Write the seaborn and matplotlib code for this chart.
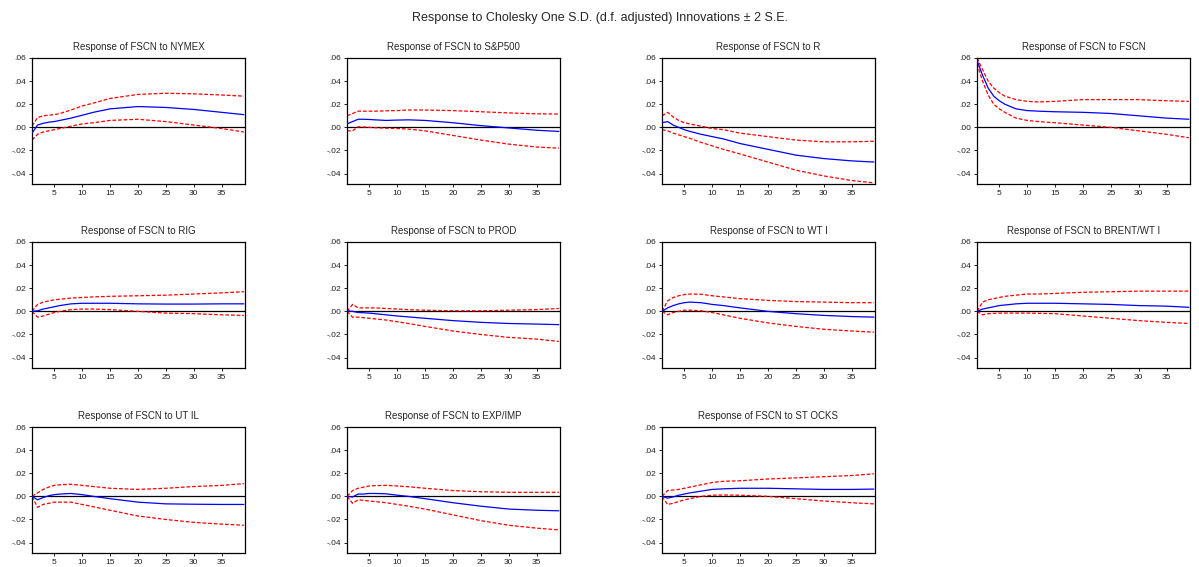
import matplotlib
matplotlib.use("Agg")
import matplotlib.pyplot as plt
import seaborn as sns
import numpy as np

periods = [1, 2, 3, 4, 5, 6, 8, 10, 12, 15, 20, 25, 30, 35, 39]

titles = ["Response of FSCN to NYMEX", "Response of FSCN to S&P500", "Response of FSCN to R",
          "Response of FSCN to FSCN", "Response of FSCN to RIG", "Response of FSCN to PROD",
          "Response of FSCN to WT I", "Response of FSCN to BRENT/WT I", "Response of FSCN to UT IL",
          "Response of FSCN to EXP/IMP", "Response of FSCN to ST OCKS"]

nymex_resp = [-0.005, 0.002, 0.0035, 0.0045, 0.005, 0.006, 0.008, 0.0105, 0.013, 0.016, 0.018, 0.0172, 0.0155, 0.013, 0.011]
nymex_up = [0.001, 0.0085, 0.0100, 0.0105, 0.011, 0.012, 0.015, 0.0185, 0.021, 0.025, 0.0285, 0.0295, 0.029, 0.028, 0.027]
nymex_lo = [-0.011, -0.006, -0.004, -0.003, -0.002, -0.001, 0.001, 0.003, 0.004, 0.006, 0.007, 0.005, 0.002, -0.001, -0.004]

sp_resp = [0.003, 0.005, 0.007, 0.007, 0.0068, 0.0065, 0.006, 0.0063, 0.0065, 0.006, 0.004, 0.0015, -0.0005, -0.0025, -0.0035]
sp_up = [0.010, 0.012, 0.014, 0.014, 0.014, 0.014, 0.0143, 0.0145, 0.015, 0.015, 0.0145, 0.0135, 0.0125, 0.0117, 0.0115]
sp_lo = [-0.003, -0.003, 0.0005, 0.0003, 0.0, -0.0003, -0.0007, -0.001, -0.0015, -0.003, -0.007, -0.011, -0.0145, -0.017, -0.018]

r_resp = [0.004, 0.005, 0.002, 0.0, -0.002, -0.0035, -0.006, -0.008, -0.010, -0.014, -0.019, -0.024, -0.027, -0.029, -0.030]
r_up = [0.010, 0.013, 0.009, 0.006, 0.004, 0.003, 0.001, -0.001, -0.002, -0.005, -0.008, -0.011, -0.0125, -0.0125, -0.012]
r_lo = [-0.002, -0.003, -0.005, -0.0065, -0.008, -0.0095, -0.013, -0.016, -0.019, -0.023, -0.030, -0.037, -0.042, -0.046, -0.048]

fscn_resp = [0.058, 0.045, 0.034, 0.027, 0.023, 0.020, 0.016, 0.0145, 0.014, 0.0135, 0.013, 0.012, 0.010, 0.008, 0.007]
fscn_up = [0.060, 0.050, 0.040, 0.034, 0.030, 0.027, 0.024, 0.0225, 0.022, 0.0225, 0.024, 0.024, 0.024, 0.023, 0.0225]
fscn_lo = [0.055, 0.040, 0.028, 0.020, 0.016, 0.013, 0.008, 0.006, 0.005, 0.004, 0.002, 0.0, -0.003, -0.006, -0.009]

rig_resp = [0.0, 0.0005, 0.002, 0.003, 0.004, 0.005, 0.0065, 0.007, 0.007, 0.007, 0.0065, 0.0063, 0.0063, 0.0065, 0.0065]
rig_up = [0.0, 0.006, 0.008, 0.009, 0.010, 0.0105, 0.0115, 0.012, 0.0125, 0.013, 0.0135, 0.014, 0.015, 0.016, 0.017]
rig_lo = [0.0, -0.005, -0.004, -0.0025, -0.001, 0.0, 0.0015, 0.002, 0.002, 0.0015, 0.0, -0.0015, -0.002, -0.003, -0.0035]

prod_resp = [0.0005, 0.0, -0.001, -0.0012, -0.0015, -0.002, -0.003, -0.004, -0.0048, -0.006, -0.008, -0.0095, -0.0105, -0.011, -0.0115]
prod_up = [0.0, 0.006, 0.003, 0.003, 0.003, 0.003, 0.0025, 0.002, 0.0015, 0.001, 0.0005, 0.0005, 0.001, 0.0015, 0.0025]
prod_lo = [0.0, -0.005, -0.005, -0.0055, -0.006, -0.0065, -0.0075, -0.009, -0.0105, -0.013, -0.017, -0.020, -0.0225, -0.024, -0.026]

wti_resp = [0.0, 0.003, 0.005, 0.0065, 0.0075, 0.008, 0.0075, 0.006, 0.005, 0.003, 0.0, -0.002, -0.0035, -0.0045, -0.005]
wti_up = [0.0, 0.009, 0.012, 0.0135, 0.0145, 0.015, 0.0148, 0.0135, 0.0125, 0.011, 0.0095, 0.0085, 0.008, 0.0075, 0.0075]
wti_lo = [0.0, -0.003, -0.001, 0.0, 0.001, 0.001, 0.0005, -0.001, -0.003, -0.006, -0.010, -0.013, -0.0155, -0.017, -0.018]

brent_resp = [0.0, 0.002, 0.003, 0.004, 0.005, 0.0055, 0.0065, 0.007, 0.007, 0.007, 0.0065, 0.006, 0.005, 0.0045, 0.0035]
brent_up = [0.0, 0.008, 0.010, 0.011, 0.012, 0.013, 0.014, 0.015, 0.015, 0.0155, 0.0165, 0.017, 0.0175, 0.0175, 0.0175]
brent_lo = [0.0, -0.003, -0.002, -0.0018, -0.0015, -0.0015, -0.0015, -0.0015, -0.0017, -0.002, -0.004, -0.006, -0.008, -0.0095, -0.0105]

util_resp = [0.0, -0.003, -0.001, 0.0005, 0.0015, 0.002, 0.0025, 0.0015, 0.0, -0.002, -0.005, -0.0065, -0.0068, -0.007, -0.007]
util_up = [0.0, 0.003, 0.006, 0.008, 0.0095, 0.010, 0.0105, 0.0095, 0.0085, 0.007, 0.006, 0.007, 0.0085, 0.0095, 0.011]
util_lo = [0.0, -0.0095, -0.007, -0.006, -0.005, -0.005, -0.005, -0.007, -0.009, -0.012, -0.017, -0.020, -0.0225, -0.024, -0.025]

expimp_resp = [0.0, -0.0005, 0.002, 0.002, 0.0025, 0.0025, 0.0022, 0.001, 0.0, -0.002, -0.0055, -0.0085, -0.011, -0.012, -0.0125]
expimp_up = [0.0, 0.005, 0.007, 0.008, 0.009, 0.0093, 0.0095, 0.009, 0.0083, 0.007, 0.005, 0.004, 0.0035, 0.0035, 0.0035]
expimp_lo = [0.0, -0.006, -0.003, -0.0035, -0.004, -0.0045, -0.0055, -0.007, -0.0085, -0.011, -0.016, -0.021, -0.025, -0.0275, -0.029]

stocks_resp = [0.0, -0.0015, -0.0005, 0.001, 0.002, 0.003, 0.0045, 0.006, 0.0065, 0.007, 0.007, 0.0065, 0.006, 0.006, 0.0063]
stocks_up = [0.0, 0.005, 0.0055, 0.006, 0.007, 0.008, 0.010, 0.012, 0.013, 0.0135, 0.015, 0.016, 0.017, 0.018, 0.0195]
stocks_lo = [0.0, -0.007, -0.006, -0.0045, -0.003, -0.002, 0.0, 0.001, 0.0012, 0.001, 0.0, -0.002, -0.004, -0.0055, -0.0065]

series = [
    (nymex_resp, nymex_up, nymex_lo), (sp_resp, sp_up, sp_lo), (r_resp, r_up, r_lo),
    (fscn_resp, fscn_up, fscn_lo), (rig_resp, rig_up, rig_lo), (prod_resp, prod_up, prod_lo),
    (wti_resp, wti_up, wti_lo), (brent_resp, brent_up, brent_lo), (util_resp, util_up, util_lo),
    (expimp_resp, expimp_up, expimp_lo), (stocks_resp, stocks_up, stocks_lo),
]

yticks = [-0.04, -0.02, 0.0, 0.02, 0.04, 0.06]
ytick_labels = ["-.04", "-.02", ".00", ".02", ".04", ".06"]
xticks = [5, 10, 15, 20, 25, 30, 35]
xtick_labels = ["5", "10", "15", "20", "25", "30", "35"]

sns.set_style("ticks")
plt.rcParams["font.family"] = ["Liberation Sans", "DejaVu Sans"]

W, H = 1199, 567
fig = plt.figure(figsize=(W / 100, H / 100), dpi=100)

col_left = [32, 347, 662, 977]
row_top = [58, 242, 427]
aw, ah = 213, 126

for i, (title, (resp, up, lo)) in enumerate(zip(titles, series)):
    r, c = divmod(i, 4)
    ax = fig.add_axes([col_left[c] / W, 1 - (row_top[r] + ah) / H, aw / W, ah / H])
    ax.axhline(0, color="black", lw=0.9, zorder=1)
    sns.lineplot(x=periods, y=up, ax=ax, color="red", lw=0.9, linestyle=(0, (3, 1.5)), zorder=2)
    sns.lineplot(x=periods, y=lo, ax=ax, color="red", lw=0.9, linestyle=(0, (3, 1.5)), zorder=2)
    sns.lineplot(x=periods, y=resp, ax=ax, color="blue", lw=0.9, zorder=3)
    ax.set_xlim(1, 39.2)
    ax.set_ylim(-0.049, 0.06)
    ax.set_yticks(yticks)
    ax.set_yticklabels(ytick_labels)
    ax.set_xticks(xticks)
    ax.set_xticklabels(xtick_labels)
    ax.tick_params(labelsize=6, length=2.5, width=0.7, pad=2, colors="#222222")
    for s in ax.spines.values():
        s.set_visible(True)
        s.set_color("black")
        s.set_linewidth(0.9)
    ax.set_title(title, fontsize=7, pad=6)
    ax.set_xlabel("")
    ax.set_ylabel("")

fig.text(0.5, 1 - 18 / H, "Response to Cholesky One S.D. (d.f. adjusted) Innovations \u00b1 2 S.E.",
         ha="center", va="center", fontsize=9)

fig.savefig("out.png", dpi=100)
